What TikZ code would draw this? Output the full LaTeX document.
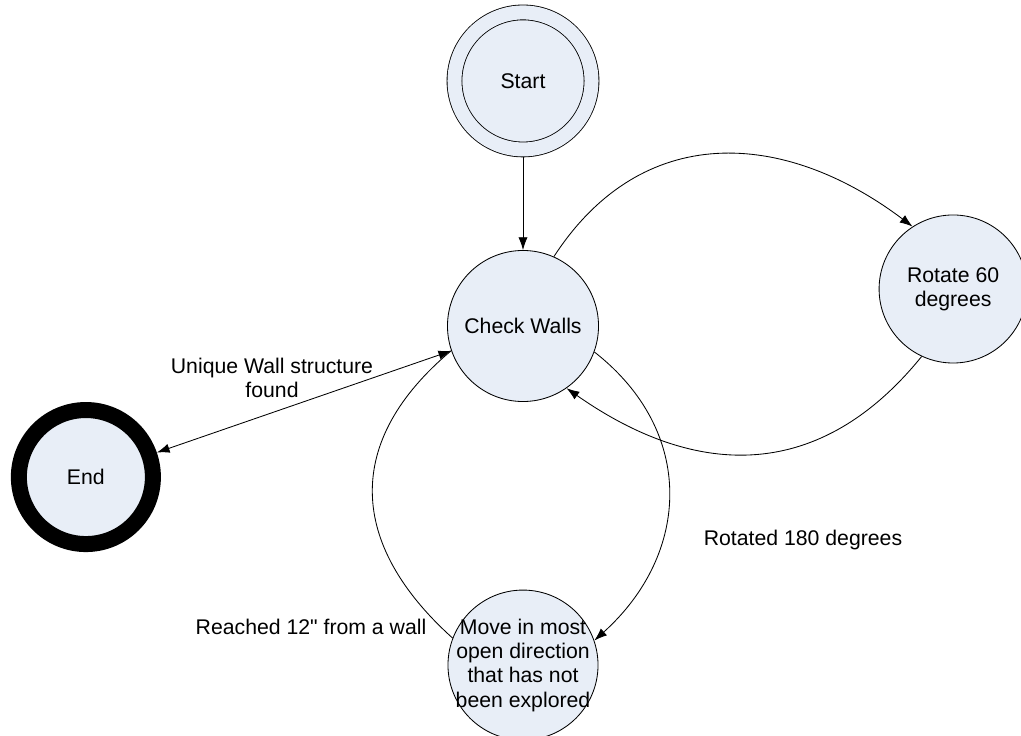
\documentclass[tikz,border=0pt]{standalone}
\usepackage{fontspec}
\setmainfont{Liberation Sans}[Ligatures=TeXOff]
\usetikzlibrary{arrows.meta,positioning}
\definecolor{stfill}{RGB}{232,238,247}
\tikzstyle{statenode}=[draw, circle, fill=stfill, minimum size=3.775cm, inner sep=2pt, align=center]
\tikzstyle{initnode}=[statenode, minimum size=3.425cm, double=stfill, double distance=0.35cm, outer sep=0.19cm]
\tikzstyle{finalnode}=[statenode, line width=0.4cm, minimum size=3.35cm]
\tikzstyle{lbl}=[align=center, inner sep=0pt]

\begin{document}
\begin{tikzpicture}[x=0.025cm,y=0.025cm,line width=0.6pt,>={Latex[length=3.2mm,width=2.3mm]},font=\fontsize{15.1}{17.3}\selectfont]
    \useasboundingbox (0,0) rectangle (1021,-736);
    \node [statenode] (check) at (523,-326) {Check Walls};
    \node [initnode] (start) [above of=check,node distance=6.125cm] {Start};
    \node [statenode,minimum size=3.7cm] (rotate) [right of=check,node distance=10.75cm,yshift=0.925cm] {Rotate 60\\degrees};
    \node [statenode,minimum size=3.75cm,label={[lbl]center:Move in most\\open direction\\that has not\\been explored}] (move) [below of=check,node distance=8.475cm] {};
    \node [finalnode] (end) [left of=check,node distance=10.925cm,yshift=-3.775cm] {End};
    % transition labels
    \node [lbl] (lend) at (272,-378) {Unique Wall structure\\found};
    \node [lbl] (lmove) at (311,-627) {Reached 12" from a wall};
    \node [lbl] (lrot) at (803,-540) {Rotated 180 degrees};
    \path[->]
    (start) edge (check)
    (check.66) edge [out=57,in=143,looseness=1.15] (rotate.123)
    (rotate.245) edge [out=231,in=-35,looseness=1.15] (check.305)
    (check.340) edge [out=-38,in=42,looseness=1.15] (move.19)
    (end) edge [<->] (check);
    \draw (move.159) to [out=138,in=220,looseness=1.25] (check.199);
\end{tikzpicture}
\end{document}
